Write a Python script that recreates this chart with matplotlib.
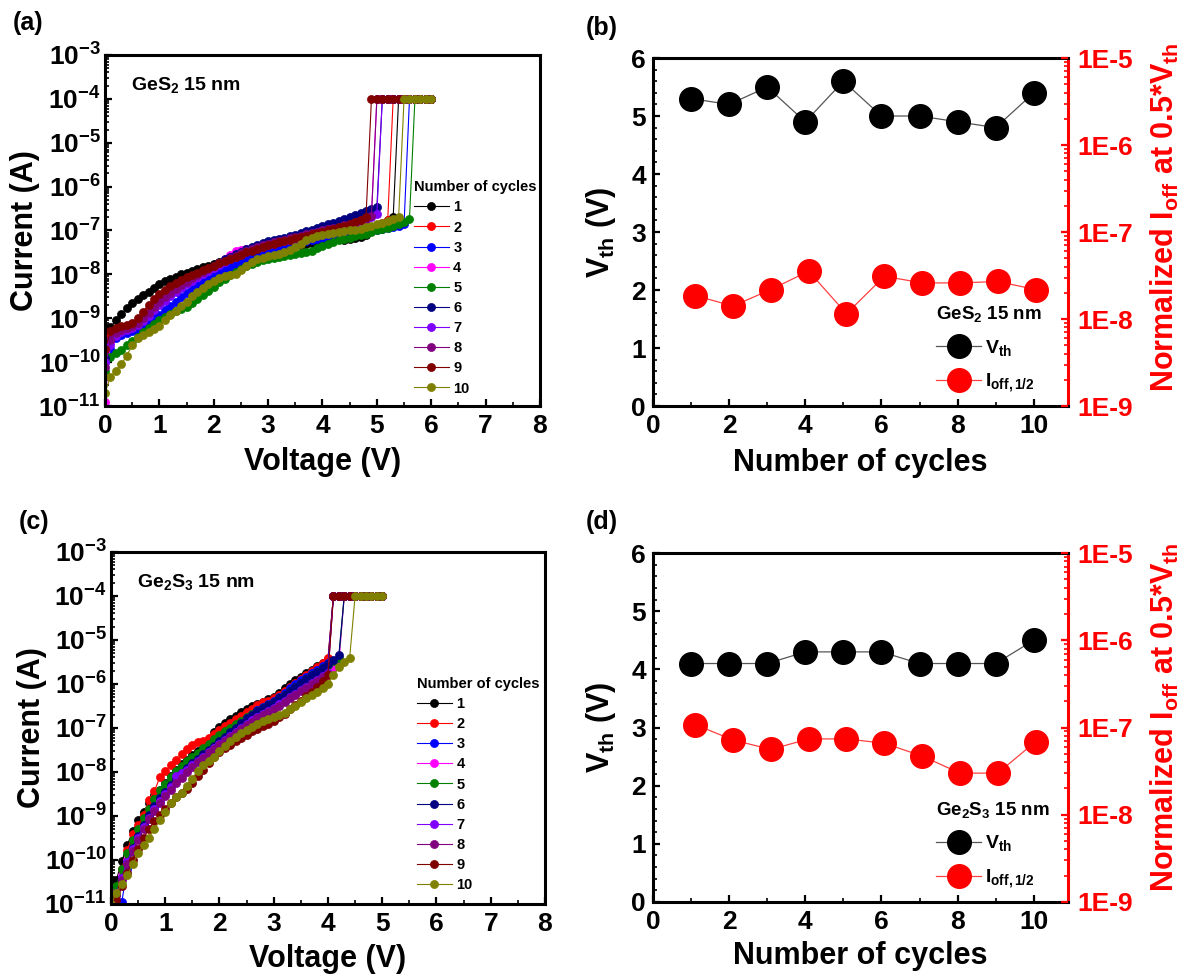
import matplotlib
matplotlib.use("Agg")
import numpy as np
import matplotlib.pyplot as plt
from matplotlib.ticker import (FixedLocator, NullFormatter,
                               FuncFormatter, MultipleLocator)

# ---------------- data ----------------
SWEEP_V = [0.0, 0.1, 0.2, 0.3, 0.4, 0.5, 0.6, 0.7, 0.8, 0.9,
           1.0, 1.1, 1.2, 1.3, 1.4, 1.5, 1.6, 1.7, 1.8, 1.9,
           2.0, 2.1, 2.2, 2.3, 2.4, 2.5, 2.6, 2.7, 2.8, 2.9,
           3.0, 3.1, 3.2, 3.3, 3.4, 3.5, 3.6, 3.7, 3.8, 3.9,
           4.0, 4.1, 4.2, 4.3, 4.4, 4.5, 4.6, 4.7, 4.8, 4.9,
           5.0, 5.1, 5.2, 5.3, 5.4, 5.5, 5.6, 5.7, 5.8, 5.9, 6.0]
COMPLIANCE_A = 1e-4
SWEEP_END_GES2 = 6.0
SWEEP_END_GE2S3 = 5.0
CYCLE_LABELS = ['1', '2', '3', '4', '5', '6', '7', '8', '9', '10']
CYCLE_COLORS = ['#000000', '#FF0000', '#0000FF', '#FF00FF', '#008000',
                '#000080', '#8000FF', '#800080', '#800000', '#808000']

# log10(current) before switching, GeS2 15 nm (panel a)
GES2_C1 = [-9.5, -9.2, -9.05, -8.9, -8.77, -8.65, -8.55, -8.47, -8.4, -8.3,
           -8.22, -8.15, -8.1, -8.05, -8.0, -7.96, -7.92, -7.88, -7.84, -7.8,
           -7.76, -7.72, -7.68, -7.64, -7.6, -7.56, -7.52, -7.48, -7.45, -7.42,
           -7.4, -7.38, -7.37, -7.36, -7.35, -7.33, -7.32, -7.3, -7.29, -7.27,
           -7.25, -7.24, -7.22, -7.2, -7.22, -7.19, -7.17, -7.15, -7.1, -7.02,
           -6.95, -6.85, -6.77, -6.7]
GES2_C2 = [-9.8, -9.4, -9.3, -9.25, -9.2, -9.15, -9.1, -8.95, -8.8, -8.65,
           -8.55, -8.45, -8.37, -8.3, -8.22, -8.15, -8.08, -8.02, -7.96, -7.9,
           -7.84, -7.79, -7.74, -7.69, -7.64, -7.6, -7.56, -7.52, -7.48, -7.44,
           -7.4, -7.37, -7.34, -7.31, -7.28, -7.25, -7.22, -7.2, -7.17, -7.15,
           -7.12, -7.1, -7.08, -7.06, -7.04, -7.02, -7.0, -6.98, -6.95, -6.92,
           -6.88, -6.82, -6.75]
GES2_C3 = [-10.0, -9.7, -9.45, -9.38, -9.33, -9.3, -9.26, -9.2, -9.1, -9.0,
           -8.92, -8.82, -8.72, -8.62, -8.52, -8.42, -8.33, -8.25, -8.17, -8.1,
           -8.03, -7.96, -7.9, -7.84, -7.78, -7.72, -7.66, -7.6, -7.55, -7.5,
           -7.46, -7.42, -7.38, -7.35, -7.32, -7.29, -7.26, -7.24, -7.22, -7.2,
           -7.18, -7.16, -7.14, -7.12, -7.1, -7.08, -7.06, -7.04, -7.02, -7.0,
           -6.98, -6.96, -6.94, -6.92, -6.9, -6.86]
GES2_C4 = [-10.9, -9.55, -9.35, -9.28, -9.22, -9.17, -9.1, -9.0, -8.88, -8.76,
           -8.65, -8.55, -8.45, -8.36, -8.28, -8.2, -8.12, -8.05, -7.98, -7.9,
           -7.82, -7.74, -7.65, -7.55, -7.46, -7.44, -7.42, -7.4, -7.37, -7.34,
           -7.31, -7.28, -7.25, -7.22, -7.2, -7.17, -7.14, -7.11, -7.08, -7.05,
           -7.02, -6.99, -6.96, -6.93, -6.9, -6.86, -6.82, -6.77, -6.72, -6.66]
GES2_C5 = [-10.2, -9.88, -9.8, -9.72, -9.62, -9.52, -9.42, -9.32, -9.22, -9.13,
           -9.05, -8.97, -8.9, -8.83, -8.78, -8.74, -8.66, -8.57, -8.48, -8.38,
           -8.28, -8.18, -8.1, -8.02, -7.95, -7.88, -7.82, -7.76, -7.72, -7.68,
           -7.64, -7.62, -7.6, -7.58, -7.56, -7.54, -7.52, -7.5, -7.46, -7.4,
           -7.35, -7.3, -7.26, -7.22, -7.19, -7.16, -7.13, -7.1, -7.07, -7.04,
           -7.0, -6.97, -6.94, -6.9, -6.86, -6.8, -6.73]
GES2_C6 = [-9.9, -9.5, -9.38, -9.32, -9.27, -9.22, -9.15, -9.05, -8.93, -8.8,
           -8.68, -8.57, -8.47, -8.37, -8.28, -8.2, -8.12, -8.04, -7.96, -7.88,
           -7.8, -7.73, -7.66, -7.6, -7.54, -7.48, -7.43, -7.38, -7.33, -7.29,
           -7.25, -7.22, -7.19, -7.16, -7.13, -7.1, -7.06, -7.02, -6.98, -6.94,
           -6.9, -6.86, -6.82, -6.78, -6.74, -6.7, -6.65, -6.6, -6.56, -6.52,
           -6.47]
GES2_C7 = [-10.0, -9.6, -9.4, -9.32, -9.27, -9.22, -9.16, -9.06, -8.94, -8.82,
           -8.7, -8.6, -8.5, -8.4, -8.31, -8.23, -8.15, -8.07, -7.99, -7.92,
           -7.85, -7.78, -7.72, -7.66, -7.6, -7.55, -7.5, -7.45, -7.41, -7.37,
           -7.33, -7.3, -7.27, -7.24, -7.21, -7.18, -7.15, -7.12, -7.09, -7.06,
           -7.03, -7.0, -6.97, -6.94, -6.91, -6.88, -6.84, -6.8, -6.75, -6.7,
           -6.62]
GES2_C8 = [-10.1, -9.5, -9.33, -9.27, -9.22, -9.17, -9.1, -9.0, -8.88, -8.75,
           -8.63, -8.52, -8.42, -8.33, -8.25, -8.17, -8.09, -8.02, -7.95, -7.88,
           -7.81, -7.75, -7.69, -7.63, -7.57, -7.52, -7.47, -7.42, -7.38, -7.34,
           -7.3, -7.27, -7.24, -7.21, -7.18, -7.15, -7.12, -7.09, -7.06, -7.03,
           -7.0, -6.97, -6.94, -6.91, -6.88, -6.85, -6.81, -6.77, -6.73, -6.68]
GES2_C9 = [-9.7, -9.3, -9.22, -9.18, -9.15, -9.1, -9.0, -8.86, -8.7, -8.56,
           -8.44, -8.35, -8.27, -8.2, -8.13, -8.07, -8.01, -7.96, -7.9, -7.85,
           -7.8, -7.75, -7.7, -7.65, -7.6, -7.55, -7.5, -7.46, -7.42, -7.38,
           -7.34, -7.3, -7.27, -7.24, -7.21, -7.18, -7.15, -7.12, -7.09, -7.06,
           -7.03, -7.0, -6.97, -6.93, -6.89, -6.85, -6.8, -6.75, -6.7]
GES2_C10 = [-10.7, -10.33, -10.2, -10.05, -9.85, -9.62, -9.46, -9.38, -9.32, -9.25,
            -9.18, -9.05, -8.93, -8.83, -8.73, -8.62, -8.5, -8.4, -8.3, -8.22,
            -8.14, -8.08, -8.04, -8.02, -8.0, -7.9, -7.8, -7.72, -7.66, -7.62,
            -7.58, -7.55, -7.53, -7.5, -7.45, -7.38, -7.3, -7.22, -7.16, -7.12,
            -7.1, -7.07, -7.05, -7.04, -7.02, -7.0, -6.98, -6.96, -6.93, -6.9,
            -6.86, -6.82, -6.78, -6.74, -6.7]

# log10(current) before switching, Ge2S3 15 nm (panel c)
GE2S3_C1 = [-10.9, -10.45, -10.03, -9.66, -9.35, -9.1, -8.9, -8.7, -8.53, -8.4,
            -8.26, -8.1, -7.96, -7.83, -7.72, -7.62, -7.52, -7.4, -7.25, -7.1,
            -6.97, -6.88, -6.8, -6.72, -6.64, -6.56, -6.5, -6.45, -6.4, -6.34,
            -6.29, -6.2, -6.1, -6.0, -5.92, -5.84, -5.76, -5.68, -5.6, -5.52,
            -5.44]
GE2S3_C2 = [-11.0, -10.75, -10.2, -9.78, -9.41, -9.21, -8.98, -8.63, -8.44, -8.12,
            -7.98, -7.85, -7.73, -7.6, -7.48, -7.38, -7.32, -7.3, -7.22, -7.14,
            -7.05, -6.96, -6.88, -6.8, -6.72, -6.64, -6.56, -6.48, -6.42, -6.38,
            -6.33, -6.25, -6.16, -6.07, -5.98, -5.88, -5.8, -5.71, -5.62, -5.52,
            -5.42]
GE2S3_C3 = [-11.1, -10.9, -10.95, -10.2, -9.8, -9.5, -9.2, -9.0, -8.78, -8.6,
            -8.45, -8.3, -8.15, -8.0, -7.9, -7.8, -7.7, -7.6, -7.5, -7.4,
            -7.3, -7.2, -7.1, -7.0, -6.9, -6.78, -6.68, -6.6, -6.52, -6.45,
            -6.38, -6.3, -6.2, -6.1, -6.0, -5.92, -5.84, -5.76, -5.68, -5.6,
            -5.52]
GE2S3_C4 = [-11.0, -10.7, -10.35, -10.0, -9.7, -9.45, -9.2, -9.0, -8.8, -8.62,
            -8.47, -8.32, -8.18, -8.05, -7.93, -7.82, -7.72, -7.62, -7.52, -7.42,
            -7.33, -7.24, -7.15, -7.06, -6.97, -6.88, -6.8, -6.72, -6.65, -6.58,
            -6.51, -6.43, -6.35, -6.27, -6.19, -6.11, -6.03, -5.95, -5.87, -5.79,
            -5.71, -5.63, -5.55]
GE2S3_C5 = [-11.0, -10.6, -10.2, -9.85, -9.55, -9.3, -9.05, -8.85, -8.62, -8.42,
            -8.28, -8.12, -7.98, -7.86, -7.76, -7.66, -7.56, -7.46, -7.36, -7.26,
            -7.17, -7.08, -7.0, -6.92, -6.84, -6.76, -6.68, -6.61, -6.54, -6.47,
            -6.4, -6.32, -6.24, -6.16, -6.07, -5.98, -5.89, -5.8, -5.72, -5.64,
            -5.56, -5.48, -5.4]
GE2S3_C6 = [-11.1, -10.8, -10.4, -10.05, -9.72, -9.45, -9.2, -8.98, -8.78, -8.6,
            -8.45, -8.3, -8.16, -8.03, -7.9, -7.8, -7.7, -7.6, -7.5, -7.4,
            -7.3, -7.2, -7.1, -7.0, -6.88, -6.78, -6.7, -6.62, -6.55, -6.48,
            -6.41, -6.33, -6.24, -6.15, -6.06, -5.97, -5.88, -5.8, -5.72, -5.63,
            -5.55, -5.45, -5.35]
GE2S3_C7 = [-11.0, -10.75, -10.4, -10.05, -9.75, -9.5, -9.25, -9.05, -8.85, -8.65,
            -8.5, -8.35, -8.1, -8.02, -7.95, -7.85, -7.75, -7.65, -7.55, -7.45,
            -7.36, -7.27, -7.18, -7.09, -7.0, -6.91, -6.83, -6.75, -6.68, -6.61,
            -6.54, -6.46, -6.38, -6.3, -6.22, -6.14, -6.06, -5.98, -5.9, -5.82,
            -5.74]
GE2S3_C8 = [-11.05, -10.8, -10.45, -10.1, -9.8, -9.55, -9.3, -9.08, -8.88, -8.7,
            -8.54, -8.4, -8.26, -8.13, -8.0, -7.88, -7.78, -7.68, -7.58, -7.48,
            -7.39, -7.3, -7.21, -7.12, -7.03, -6.94, -6.86, -6.78, -6.71, -6.64,
            -6.57, -6.49, -6.41, -6.33, -6.25, -6.17, -6.09, -6.01, -5.93, -5.85,
            -5.77]
GE2S3_C9 = [-11.1, -10.9, -10.6, -10.3, -10.0, -9.75, -9.5, -9.3, -9.12, -8.98,
            -8.85, -8.7, -8.58, -8.48, -8.38, -8.25, -8.1, -7.95, -7.8, -7.66,
            -7.55, -7.46, -7.38, -7.3, -7.22, -7.15, -7.08, -7.02, -6.96, -6.9,
            -6.84, -6.76, -6.68, -6.58, -6.48, -6.38, -6.28, -6.18, -6.06, -5.94,
            -5.8]
GE2S3_C10 = [-11.0, -10.75, -10.55, -10.35, -10.1, -9.85, -9.65, -9.5, -9.3, -9.1,
             -8.9, -8.7, -8.58, -8.48, -8.33, -8.15, -7.98, -7.85, -7.75, -7.66,
             -7.52, -7.4, -7.3, -7.2, -7.12, -7.04, -6.97, -6.91, -6.85, -6.8,
             -6.75, -6.7, -6.65, -6.58, -6.5, -6.42, -6.33, -6.25, -6.18, -6.1,
             -6.0, -5.8, -5.62, -5.5, -5.4]

GES2_CURVES = [GES2_C1, GES2_C2, GES2_C3, GES2_C4, GES2_C5,
               GES2_C6, GES2_C7, GES2_C8, GES2_C9, GES2_C10]
GE2S3_CURVES = [GE2S3_C1, GE2S3_C2, GE2S3_C3, GE2S3_C4, GE2S3_C5,
                GE2S3_C6, GE2S3_C7, GE2S3_C8, GE2S3_C9, GE2S3_C10]

CYCLES = [1, 2, 3, 4, 5, 6, 7, 8, 9, 10]
GES2_VTH = [5.3, 5.2, 5.5, 4.9, 5.6, 5.0, 5.0, 4.9, 4.8, 5.4]
GES2_IOFF = [1.86e-8, 1.41e-8, 2.18e-8, 3.55e-8, 1.15e-8,
             3.1e-8, 2.6e-8, 2.6e-8, 2.7e-8, 2.18e-8]
GE2S3_VTH = [4.1, 4.1, 4.1, 4.3, 4.3, 4.3, 4.1, 4.1, 4.1, 4.5]
GE2S3_IOFF = [1.08e-7, 7.2e-8, 5.6e-8, 7.4e-8, 7.4e-8,
              6.6e-8, 4.7e-8, 3.0e-8, 3.0e-8, 6.9e-8]

IV_DECADES = [1e-11, 1e-10, 1e-9, 1e-8, 1e-7, 1e-6, 1e-5, 1e-4, 1e-3]
IOFF_DECADES = [1e-9, 1e-8, 1e-7, 1e-6, 1e-5]

# ---------------- style ----------------
plt.rcParams.update({
    'font.family': ['Liberation Sans', 'DejaVu Sans'],
    'font.weight': 'bold',
    'axes.labelweight': 'bold',
    'mathtext.fontset': 'custom',
    'mathtext.rm': 'Liberation Sans:bold',
    'mathtext.bf': 'Liberation Sans:bold',
    'mathtext.it': 'Liberation Sans:bold:italic',
    'mathtext.sf': 'Liberation Sans:bold',
    'mathtext.default': 'rm',
    'axes.linewidth': 2.2,
    'xtick.direction': 'in',
    'ytick.direction': 'in',
})

TICK_FS = 19
LABEL_FS = 22

fig = plt.figure(figsize=(11.92, 9.80), dpi=100)

RECT_A = [0.0881, 0.5857, 0.3649, 0.3582]
RECT_B = [0.5478, 0.5857, 0.3482, 0.3551]
RECT_C = [0.0931, 0.0776, 0.3641, 0.3592]
RECT_D = [0.5478, 0.0796, 0.3482, 0.3561]


def decade_fmt(y, _):
    return r'$10^{%d}$' % int(round(np.log10(y)))


def e_fmt(y, _):
    return '1E%d' % int(round(np.log10(y)))


def minor_log(decades):
    return [d * k for d in decades[:-1] for k in range(2, 10)]


def plot_iv(rect, curves, v_end, sample_text, legend_anchor, label_coords):
    ax = fig.add_axes(rect)
    for logs, color, lab in zip(curves, CYCLE_COLORS, CYCLE_LABELS):
        n = len(logs)
        v = SWEEP_V[:n] + [x for x in SWEEP_V[n:] if x <= v_end + 1e-9]
        cur = [10.0 ** x for x in logs] + [COMPLIANCE_A] * (len(v) - n)
        ax.plot(v, cur, '-o', color=color, lw=0.8, ms=5.8, mec=color,
                mew=0.5, label=lab)
    ax.set_yscale('log')
    ax.set_ylim(1e-11, 1e-3)
    ax.set_xlim(0, 8)
    ax.yaxis.set_major_locator(FixedLocator(IV_DECADES))
    ax.yaxis.set_minor_locator(FixedLocator(minor_log(IV_DECADES)))
    ax.yaxis.set_major_formatter(FuncFormatter(decade_fmt))
    ax.yaxis.set_minor_formatter(NullFormatter())
    ax.xaxis.set_major_locator(MultipleLocator(1))
    ax.xaxis.set_minor_locator(MultipleLocator(0.5))
    ax.tick_params(which='major', length=5, width=1.6, labelsize=TICK_FS)
    ax.tick_params(which='minor', length=3, width=1.2)
    ax.tick_params(axis='x', pad=6)
    ax.tick_params(axis='y', pad=3)
    ax.set_xlabel('Voltage (V)', fontsize=LABEL_FS, va='center')
    ax.set_ylabel('Current (A)', fontsize=LABEL_FS, va='center')
    ax.xaxis.set_label_coords(0.5, label_coords[1])
    ax.yaxis.set_label_coords(label_coords[0], 0.5)
    ax.text(0.06, 0.915, sample_text, transform=ax.transAxes, fontsize=14,
            ha='left', va='center')
    ax.legend(title='Number of cycles', loc='upper left',
              bbox_to_anchor=legend_anchor, frameon=False,
              fontsize=10.5, title_fontsize=10.5, handlelength=2.4,
              handletextpad=0.3, labelspacing=0.42, borderaxespad=0,
              borderpad=0, alignment='left')
    return ax


def plot_vth(rect, vth, ioff, title, xlab_y, rlab_y):
    ax = fig.add_axes(rect)
    l1, = ax.plot(CYCLES, vth, '-o', color='#555555', lw=0.9, ms=17,
                  mfc='black', mec='black', label=r'V$_{th}$')
    ax.set_xlim(0, 10.9)
    ax.set_ylim(0, 6)
    ax.xaxis.set_major_locator(MultipleLocator(2))
    ax.xaxis.set_minor_locator(MultipleLocator(1))
    ax.yaxis.set_major_locator(MultipleLocator(1))
    ax.yaxis.set_minor_locator(MultipleLocator(0.2))
    ax.tick_params(which='major', length=5, width=1.6, labelsize=TICK_FS)
    ax.tick_params(which='minor', length=3, width=1.2)
    ax.tick_params(axis='x', pad=6)
    ax.tick_params(axis='y', pad=5)
    ax.spines['right'].set_color('red')
    ax.set_xlabel('Number of cycles', fontsize=LABEL_FS, va='center')
    ax.set_ylabel(r'V$_{th}$ (V)', fontsize=LABEL_FS, va='center')
    ax.xaxis.set_label_coords(0.5, xlab_y)
    ax.yaxis.set_label_coords(-0.125, 0.5)

    ax2 = fig.add_axes(rect, frameon=False)
    ax2.patch.set_alpha(0)
    l2, = ax2.plot(CYCLES, ioff, '-o', color='#FF4040', lw=0.9, ms=17,
                   mfc='red', mec='red', label=r'I$_{off,1/2}$')
    ax2.set_xlim(-0.114, 10.855)
    ax2.set_yscale('log')
    ax2.set_ylim(1e-9, 1e-5)
    ax2.set_xticks([])
    ax2.xaxis.set_visible(False)
    ax2.yaxis.tick_right()
    ax2.yaxis.set_label_position('right')
    ax2.yaxis.set_major_locator(FixedLocator(IOFF_DECADES))
    ax2.yaxis.set_minor_locator(FixedLocator(minor_log(IOFF_DECADES)))
    ax2.yaxis.set_major_formatter(FuncFormatter(e_fmt))
    ax2.yaxis.set_minor_formatter(NullFormatter())
    ax2.tick_params(axis='y', which='both', colors='red', labelcolor='red')
    ax2.tick_params(axis='y', which='major', length=5, width=1.6,
                    labelsize=TICK_FS, pad=7)
    ax2.tick_params(axis='y', which='minor', length=3, width=1.2)
    ax2.set_ylabel(r'Normalized I$_{off}$ at 0.5*V$_{th}$', color='red',
                   fontsize=LABEL_FS, va='center')
    ax2.yaxis.set_label_coords(1.234, rlab_y)
    ax2.legend(handles=[l1, l2], title=title, loc='upper left',
               bbox_to_anchor=(0.683, 0.293), frameon=False, fontsize=14,
               title_fontsize=13.5, handlelength=2.3, handletextpad=0.2,
               labelspacing=0.7, borderaxespad=0, borderpad=0,
               alignment='left')
    return ax, ax2


plot_iv(RECT_A, GES2_CURVES, SWEEP_END_GES2, r'GeS$_2$ 15 nm',
        (0.71, 0.643), (-0.184, -0.16))
plot_iv(RECT_C, GE2S3_CURVES, SWEEP_END_GE2S3, r'Ge$_2$S$_3$ 15 nm',
        (0.705, 0.645), (-0.181, -0.155))
plot_vth(RECT_B, GES2_VTH, GES2_IOFF, r'GeS$_2$ 15 nm', -0.164, 0.543)
plot_vth(RECT_D, GE2S3_VTH, GE2S3_IOFF, r'Ge$_2$S$_3$ 15 nm', -0.156, 0.53)

for lab, x, y in [('(a)', 0.0109, 0.9765), ('(b)', 0.4916, 0.9714),
                  ('(c)', 0.0159, 0.4673), ('(d)', 0.4916, 0.4673)]:
    fig.text(x, y, lab, fontsize=18, ha='left', va='center')

fig.savefig('out.png', dpi=100)
